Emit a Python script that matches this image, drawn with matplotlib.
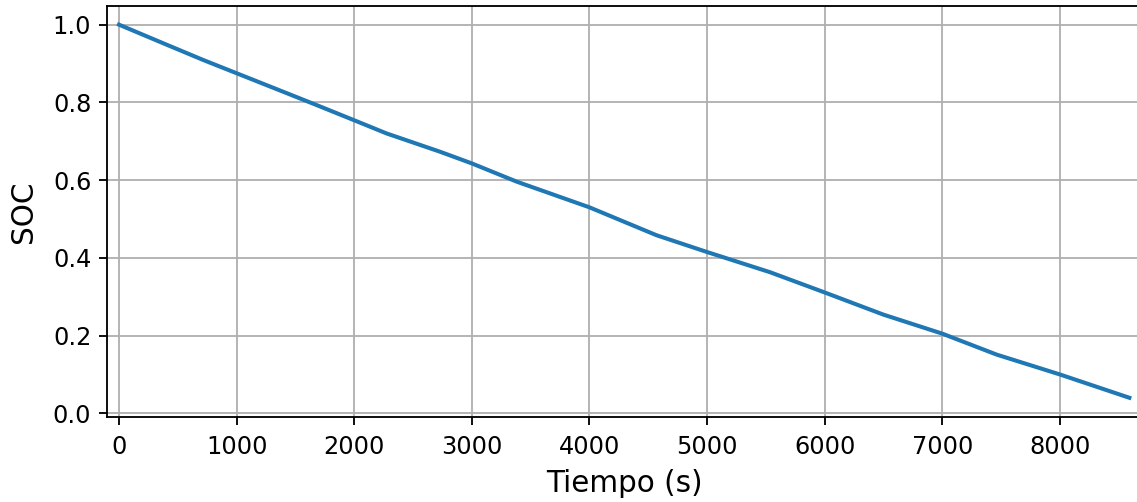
import matplotlib

matplotlib.use("Agg")
import matplotlib.pyplot as plt

# SOC readings over time
tiempo_s = [0, 377, 717, 1000, 1341, 1681, 2000, 2276, 2730, 3000, 3382,
            4000, 4572, 5000, 5536, 6000, 6499, 7000, 7463, 8000, 8591]
soc = [1.000, 0.952, 0.909, 0.875, 0.834, 0.793, 0.754, 0.720, 0.673, 0.643, 0.596,
       0.530, 0.458, 0.415, 0.363, 0.311, 0.254, 0.205, 0.151, 0.100, 0.040]

DPI = 133
W, H = 1137, 502

fig = plt.figure(figsize=(W / DPI, H / DPI), dpi=DPI)
left, right, bottom, top = 107, 1141, 417, 6
ax = fig.add_axes([left / W, (H - bottom) / H, (right - left) / W, (bottom - top) / H])

ax.plot(tiempo_s, soc, color="#1f77b4", linewidth=2.2)

ax.set_xlim(-102, 8690)
ax.set_ylim(-0.0095, 1.048)
ax.set_xticks(range(0, 9000, 1000))
ax.set_yticks([0.0, 0.2, 0.4, 0.6, 0.8, 1.0])
ax.tick_params(labelsize=13, length=4.5, width=1.0, pad=4)
ax.tick_params(axis="x", pad=5.5)
for s in ax.spines.values():
    s.set_linewidth(1.0)

ax.set_xlabel("Tiempo (s)", fontsize=16, labelpad=5)
ax.set_ylabel("SOC", fontsize=16, labelpad=8)
ax.grid(True, color="#b0b0b0", linewidth=1.0)

fig.savefig("out.png", dpi=DPI)
